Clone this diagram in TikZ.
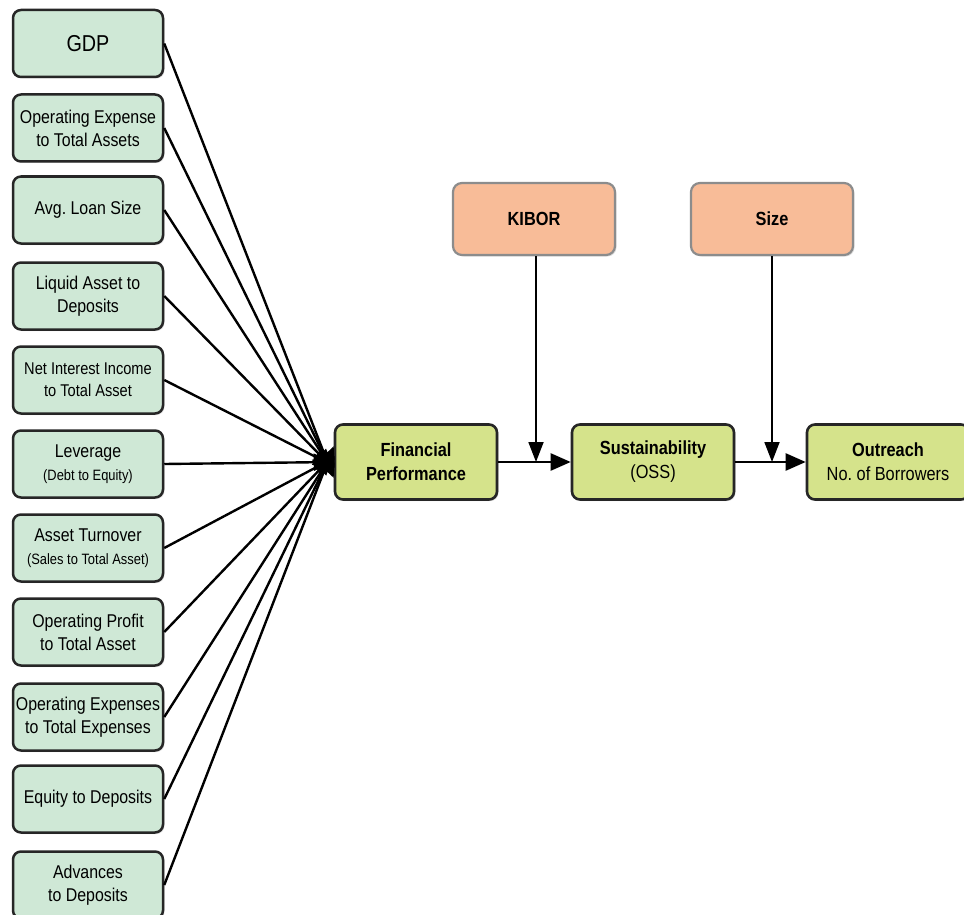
\documentclass[tikz,border=0pt]{standalone}
\usepackage{fontspec}
\setmainfont{Liberation Sans}[FakeStretch=0.86]
\usetikzlibrary{arrows.meta,shadows}
\definecolor{mint}{HTML}{CFE8D6}
\definecolor{lime}{HTML}{D5E38B}
\definecolor{salmon}{HTML}{F8BC98}
\begin{document}
\begin{tikzpicture}[x=1pt,y=-1pt,
  shad/.style={drop shadow={opacity=0.25,shadow xshift=1.5pt,shadow yshift=-1.5pt}},
  leftbox/.style={draw=black!85, line width=2.5pt, rounded corners=8pt, fill=mint,
    minimum width=150pt, minimum height=67pt, align=center, inner sep=1pt,
    font=\fontsize{18.5}{23}\selectfont, shad},
  mainbox/.style={draw=black!85, line width=2.6pt, rounded corners=8pt, fill=lime,
    minimum width=162pt, minimum height=75pt, align=center, inner sep=1pt,
    font=\fontsize{19}{24}\selectfont, shad},
  modbox/.style={draw=black!45, line width=2.2pt, rounded corners=9pt, fill=salmon,
    minimum width=162pt, minimum height=72pt, align=center,
    font=\fontsize{19}{23}\selectfont\bfseries, shad},
  conn/.style={line width=2.4pt, -{Triangle[length=20pt,width=17pt]}},
  vconn/.style={line width=1.8pt, -{Triangle[length=20pt,width=15pt]}}]
\useasboundingbox (0,0) rectangle (964,915);
\fill[white] (0,0) rectangle (964,915);

\node[leftbox, font=\fontsize{23}{26}\selectfont] (b1) at (88,43.5) {GDP};
\node[leftbox] (b2) at (88,128) {Operating Expense\\to Total Assets};
\node[leftbox] (b3) at (88,210) {Avg.\ Loan Size};
\node[leftbox] (b4) at (88,296) {Liquid Asset to\\Deposits};
\node[leftbox, font=\fontsize{17}{22}\selectfont] (b5) at (88,380) {Net Interest Income\\to Total Asset};
\node[leftbox] (b6) at (88,464) {Leverage\\{\fontsize{15}{19}\selectfont (Debt to Equity)}};
\node[leftbox] (b7) at (88,548) {Asset Turnover\\{\fontsize{15}{19}\selectfont (Sales to Total Asset)}};
\node[leftbox] (b8) at (88,632) {Operating Profit\\to Total Asset};
\node[leftbox] (b9) at (88,717) {Operating Expenses\\to Total Expenses};
\node[leftbox] (b10) at (88,799) {Equity to Deposits};
\node[leftbox] (b11) at (88,885) {Advances\\to Deposits};

\node[mainbox] (fp) at (416,462) {\textbf{Financial}\\\textbf{Performance}};
\node[mainbox] (sus) at (653,462) {\textbf{Sustainability}\\(OSS)};
\node[mainbox] (out) at (888,462) {\textbf{Outreach}\\No.\ of Borrowers};

\node[modbox] (kibor) at (534,219) {KIBOR};
\node[modbox] (size) at (772,219) {Size};

\foreach \i/\d in {1/-16,2/-13,3/-10,4/-7,5/-4,6/0,7/4,8/7,9/10,10/13,11/16}{
  \draw[conn] (b\i.east) -- ([yshift=\d pt]fp.west);
}
\draw[conn] (fp.east) -- (sus.west);
\draw[conn] (sus.east) -- (out.west);
\coordinate (k1) at ([xshift=2pt]kibor.south |- fp.east);
\coordinate (s1) at (size.south |- fp.east);
\draw[vconn] ([xshift=2pt]kibor.south) -- (k1);
\draw[vconn] (size.south) -- (s1);
\end{tikzpicture}
\end{document}
